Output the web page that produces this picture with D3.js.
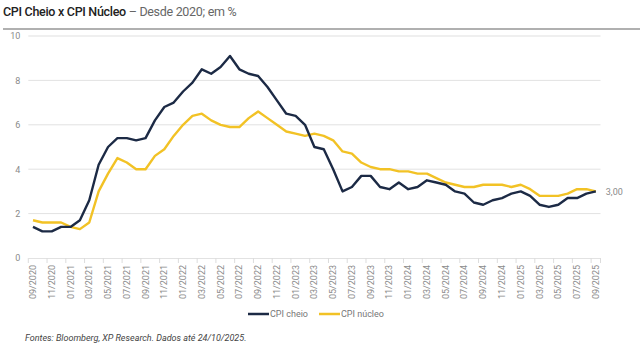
<!DOCTYPE html>
<html><head><meta charset="utf-8">
<script src="https://cdn.jsdelivr.net/npm/d3@7"></script>
<style>
html,body{margin:0;padding:0;background:#fff;}
svg{display:block;font-family:Roboto, "Noto Sans", sans-serif;}
</style></head>
<body>
<svg id="c" width="640" height="353"></svg>
<script>
const months = [
 "09/2020","10/2020","11/2020","12/2020",
 "01/2021","02/2021","03/2021","04/2021","05/2021","06/2021","07/2021","08/2021","09/2021","10/2021","11/2021","12/2021",
 "01/2022","02/2022","03/2022","04/2022","05/2022","06/2022","07/2022","08/2022","09/2022","10/2022","11/2022","12/2022",
 "01/2023","02/2023","03/2023","04/2023","05/2023","06/2023","07/2023","08/2023","09/2023","10/2023","11/2023","12/2023",
 "01/2024","02/2024","03/2024","04/2024","05/2024","06/2024","07/2024","08/2024","09/2024","10/2024","11/2024","12/2024",
 "01/2025","02/2025","03/2025","04/2025","05/2025","06/2025","07/2025","08/2025","09/2025"];
const cpiCheio = [1.4,1.2,1.2,1.4,
 1.4,1.7,2.6,4.2,5.0,5.4,5.4,5.3,5.4,6.2,6.8,7.0,
 7.5,7.9,8.5,8.3,8.6,9.1,8.5,8.3,8.2,7.7,7.1,6.5,
 6.4,6.0,5.0,4.9,4.0,3.0,3.2,3.7,3.7,3.2,3.1,3.4,
 3.1,3.2,3.5,3.4,3.3,3.0,2.9,2.5,2.4,2.6,2.7,2.9,
 3.0,2.8,2.4,2.3,2.4,2.7,2.7,2.9,3.0];
const cpiNucleo = [1.7,1.6,1.6,1.6,
 1.4,1.3,1.6,3.0,3.8,4.5,4.3,4.0,4.0,4.6,4.9,5.5,
 6.0,6.4,6.5,6.2,6.0,5.9,5.9,6.3,6.6,6.3,6.0,5.7,
 5.6,5.5,5.6,5.5,5.3,4.8,4.7,4.3,4.1,4.0,4.0,3.9,
 3.9,3.8,3.8,3.6,3.4,3.3,3.2,3.2,3.3,3.3,3.3,3.2,
 3.3,3.1,2.8,2.8,2.8,2.9,3.1,3.1,3.0];
const yTicks = [0,2,4,6,8,10];
const xTickLabels = months.filter((m,i)=>i%2===0);
const seriesNames = ["CPI cheio","CPI núcleo"];
const lastLabel = "3,00";

(function(){
const colors = {cheio:"#1c2a45", nucleo:"#f2c225"};
const svg = d3.select("#c");

const title = svg.append("text").attr("x",3).attr("y",16).attr("font-size",12.5).attr("letter-spacing","-0.3");
title.append("tspan").attr("fill","#222").attr("font-weight",500).text("CPI Cheio x CPI Núcleo");
title.append("tspan").attr("fill","#666").text(" – Desde 2020; em %");
svg.append("line").attr("x1",3).attr("x2",640).attr("y1",29).attr("y2",29).attr("stroke","#b0b0b0").attr("stroke-width",2);

const pL=28.3, pR=600.5, pT=36, pB=258;
const x = d3.scaleBand().domain(months).range([pL,pR]);
const xc = m => x(m)+x.bandwidth()/2;
const y = d3.scaleLinear().domain([0,10]).range([pB,pT]);

svg.append("g").selectAll("line").data(yTicks.filter(d=>d>0)).join("line")
 .attr("x1",pL).attr("x2",pR).attr("y1",d=>y(d)).attr("y2",d=>y(d))
 .attr("stroke",d=>d===10?"#efefef":"#e2e2e2").attr("stroke-width",d=>d===10?2:1);

const yAxis = d3.axisLeft(y).tickValues(yTicks).tickSize(0).tickPadding(0);
const gy = svg.append("g").attr("transform",`translate(${pL-8},0)`).call(yAxis);
gy.select(".domain").remove();
gy.selectAll("text").attr("fill","#8a8a8a").attr("font-size",9).attr("font-family","Roboto");

const xAxis = d3.axisBottom(x).tickValues(xTickLabels).tickSize(0).tickPadding(0);
const gx = svg.append("g").attr("transform",`translate(0,${pB})`).call(xAxis);
gx.select(".domain").attr("stroke","#e2e2e2");
gx.selectAll("text").attr("fill","#8a8a8a").attr("font-size",9).attr("font-family","Roboto")
 .attr("text-anchor","end").attr("dy",null).attr("dominant-baseline","central")
 .attr("transform","translate(0,7) rotate(-90)").attr("y",0).attr("x",0);
svg.append("g").selectAll("line").data(xTickLabels.concat(["__end"])).join("line")
 .attr("x1",d=>d==="__end"?pR:x(d)).attr("x2",d=>d==="__end"?pR:x(d))
 .attr("y1",pB).attr("y2",pB+5).attr("stroke","#dcdcdc");

const line = d3.line().x((d,i)=>xc(months[i])).y(d=>y(d));
svg.append("path").datum(cpiNucleo).attr("d",line).attr("fill","none").attr("stroke",colors.nucleo).attr("stroke-width",2.4).attr("stroke-linejoin","round");
svg.append("path").datum(cpiCheio).attr("d",line).attr("fill","none").attr("stroke",colors.cheio).attr("stroke-width",2.4).attr("stroke-linejoin","round");

svg.append("text").attr("x",xc(months[months.length-1])+10).attr("y",y(cpiCheio[cpiCheio.length-1])).attr("dy","0.35em")
 .attr("font-size",9).attr("fill","#8a8a8a").text(lastLabel);

const lg = svg.append("g").attr("transform","translate(0,314)");
const legItems = [{name:seriesNames[0],c:colors.cheio,x:248},{name:seriesNames[1],c:colors.nucleo,x:319}];
legItems.forEach(it=>{
  lg.append("line").attr("x1",it.x).attr("x2",it.x+21).attr("y1",0).attr("y2",0).attr("stroke",it.c).attr("stroke-width",2.5);
  lg.append("text").attr("x",it.x+22).attr("y",0).attr("dy","0.35em").attr("font-size",9).attr("fill","#777").text(it.name);
});

svg.append("text").attr("x",25).attr("y",341).attr("font-size",9).attr("font-style","italic").attr("fill","#444")
 .text("Fontes: Bloomberg, XP Research. Dados até 24/10/2025.");
})();
</script>
</body></html>
